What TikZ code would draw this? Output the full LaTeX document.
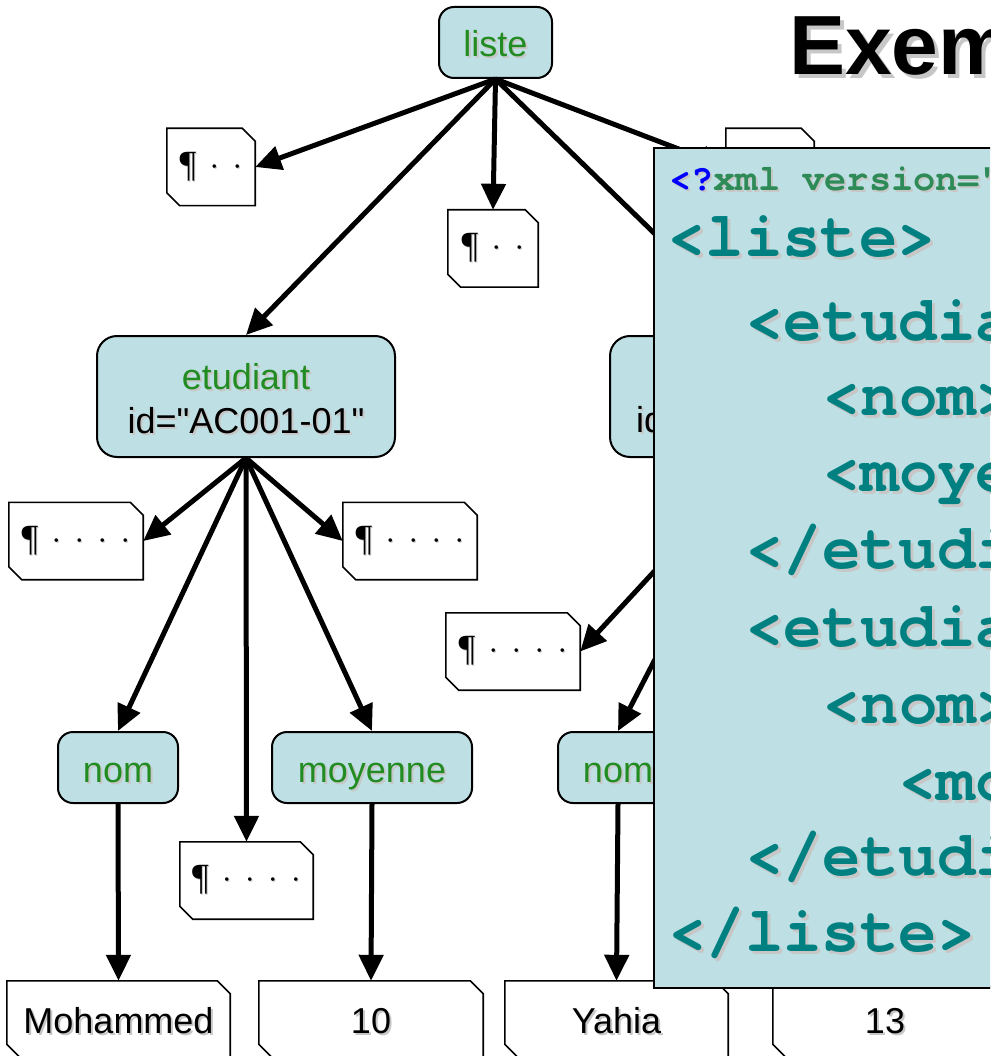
\documentclass[tikz,border=0pt]{standalone}
\usepackage{fontspec}
\setmainfont{Liberation Sans}[Ligatures=TeXOff]
\newfontfamily\codefont{TeX Gyre Cursor}[Ligatures=TeXOff]
\newfontfamily\pilfont{Liberation Serif}
\usetikzlibrary{arrows.meta}

\definecolor{nodefill}{RGB}{190,224,228}
\definecolor{taggreen}{RGB}{34,139,34}
\definecolor{codeteal}{RGB}{0,128,128}
\definecolor{declblue}{RGB}{0,0,255}
\definecolor{declgreen}{RGB}{46,139,87}

% text with a soft grey drop shadow
\newcommand\shadowed[2][2pt]{\leavevmode\rlap{\hspace{#1}\raisebox{-#1}{\textcolor{black!22}{#2}}}#2}
% pilcrow and centred dots of the whitespace text nodes
\newcommand\pil{{\pilfont\fontsize{37}{40}\selectfont\shadowed[1pt]{¶}}}
\newcommand\pdot{\hspace{13pt}{\pilfont\fontsize{30}{34}\selectfont\shadowed[1pt]{·}}}

\begin{document}
\begin{tikzpicture}[x=1pt,y=-1pt,
  elem/.style={draw, line width=2pt, fill=nodefill, rounded corners=15pt,
    text=taggreen, font=\fontsize{36}{43}\selectfont, inner sep=0pt, align=center},
  wide/.style={rounded corners=20pt, minimum width=298pt, minimum height=121pt},
  small/.style={minimum height=71pt, text height=29pt, text depth=0pt},
  leaf/.style={inner sep=0pt, font=\fontsize{36}{43}\selectfont,
    minimum width=223pt, minimum height=76pt, text height=29pt, text depth=0pt},
  pilbox/.style={inner sep=0pt, minimum height=77pt},
  outline/.style={draw, line width=1.6pt, line join=miter},
  link/.style={line width=5pt, -{Triangle[length=26pt,width=24pt]}},
  codeline/.style={anchor=base west, inner sep=0pt, text=codeteal,
    font=\codefont\bfseries\fontsize{64}{70}\selectfont},
]
\useasboundingbox (0,0) rectangle (990,1056);
\clip (0,0) rectangle (990,1056);

% element nodes
\node[elem, small, minimum width=113pt] (liste) at (495.5,42.5) {\shadowed{liste}};
\node[elem, wide] (et1) at (246,396.5) {};
\node[align=center, inner sep=0pt, text=taggreen, font=\fontsize{36}{44}\selectfont] (et1text) at (246,400)
  {\shadowed{etudiant}\\\textcolor{black}{\shadowed{id="AC001-01"}}};
\node[elem, wide] (et2) at (759,396.5) {};
\node[anchor=base west, inner sep=0pt, font=\fontsize{36}{43}\selectfont] (et2id) at (636,432) {\shadowed{id}};
\node[elem, small, minimum width=120pt] (nom1) at (118,767.5) {\shadowed{nom}};
\node[elem, small, minimum width=200pt] (moy) at (372,767.5) {\shadowed{moyenne}};
\node[elem, small, minimum width=120pt] (nom2) at (618,767.5) {\shadowed{nom}};

% whitespace text nodes
\node[pilbox, minimum width=88pt] (pa) at (211,167) {\pil\pdot\pdot};
\node[pilbox, minimum width=90pt] (pb) at (493,248.5) {\pil\pdot\pdot};
\node[pilbox, minimum width=88pt] (pc) at (770,167) {\pil\pdot\pdot};
\node[pilbox, minimum width=134pt] (pd) at (76,541) {\pil\pdot\pdot\pdot\pdot};
\node[pilbox, minimum width=134pt] (pe) at (410,541) {\pil\pdot\pdot\pdot\pdot};
\node[pilbox, minimum width=134pt] (pf) at (513,651.5) {\pil\pdot\pdot\pdot\pdot};
\node[pilbox, minimum width=133pt] (pg) at (246.5,880.5) {\pil\pdot\pdot\pdot\pdot};

% text value nodes
\node[leaf] (mo) at (118.5,1019) {\shadowed{Mohammed}};
\node[leaf, minimum width=224pt] (dix) at (371,1019) {\shadowed{10}};
\node[leaf] (ya) at (616.5,1019) {\shadowed{Yahia}};
\node[leaf, minimum width=224pt] (treize) at (885,1019) {\shadowed{13}};

% chamfered outlines of the text nodes
\foreach \n in {pa,pb,pc,pd,pe,pf,pg,mo,dix,ya,treize}
  \draw[outline] ([xshift=-13pt]\n.north east) -- ([yshift=-13pt]\n.north east)
    -- (\n.south east) -- ([xshift=13pt]\n.south west)
    -- ([yshift=13pt]\n.south west) -- (\n.north west) -- cycle;

% tree edges
\draw[link] (liste.south) -- (pa.east);
\draw[link] (liste.south) -- (et1.north);
\draw[link] (liste.south) -- (pb.north);
\draw[link] (liste.south) -- (pc.west);
\draw[link] (liste.south) -- (et2.north);
\draw[link] (et1.south) -- (pd.east);
\draw[link] (et1.south) -- (nom1.north);
\draw[link] (et1.south) -- (pg.north);
\draw[link] (et1.south) -- (moy.north);
\draw[link] (et1.south) -- (pe.west);
\draw[link] (et2.south) -- (pf.east);
\draw[link] (et2.south) -- (nom2.north);
\draw[link] (nom1.south) -- (mo.north);
\draw[link] (moy.south) -- (dix.north);
\draw[link] (nom2.south) -- (ya.north);

% XML source panel
\node[draw, line width=2pt, fill=nodefill, anchor=north west, inner sep=0pt,
  minimum width=400pt, minimum height=840pt] (code) at (653,147) {};
\node[anchor=base west, inner sep=0pt, font=\codefont\bfseries\fontsize{37}{40}\selectfont] (c0) at (669,191)
  {\rlap{\hspace{2pt}\raisebox{-2pt}{\textcolor{black!22}{<?xml version="}}}\textcolor{declblue}{<?}\textcolor{declgreen}{xml version="}};
\node[codeline] (c1) at (667,257) {\shadowed[3pt]{<liste>}};
\node[codeline] (c2) at (745,340) {\shadowed[3pt]{<etudiant}};
\node[codeline] (c3) at (822,415) {\shadowed[3pt]{<nom>}};
\node[codeline] (c4) at (822,491) {\shadowed[3pt]{<moyenne>}};
\node[codeline] (c5) at (745,568) {\shadowed[3pt]{</etudiant>}};
\node[codeline] (c6) at (745,646) {\shadowed[3pt]{<etudiant}};
\node[codeline] (c7) at (822,723) {\shadowed[3pt]{<nom>}};
\node[codeline] (c8) at (898,800) {\shadowed[3pt]{<moyenne>}};
\node[codeline] (c9) at (745,875) {\shadowed[3pt]{</etudiant>}};
\node[codeline] (c10) at (668,951) {\shadowed[3pt]{</liste>}};

% slide title
\node[anchor=base west, inner sep=0pt, font=\bfseries\fontsize{84}{90}\selectfont] (title) at (789,75)
  {\shadowed[4pt]{Exem}};
\end{tikzpicture}
\end{document}
